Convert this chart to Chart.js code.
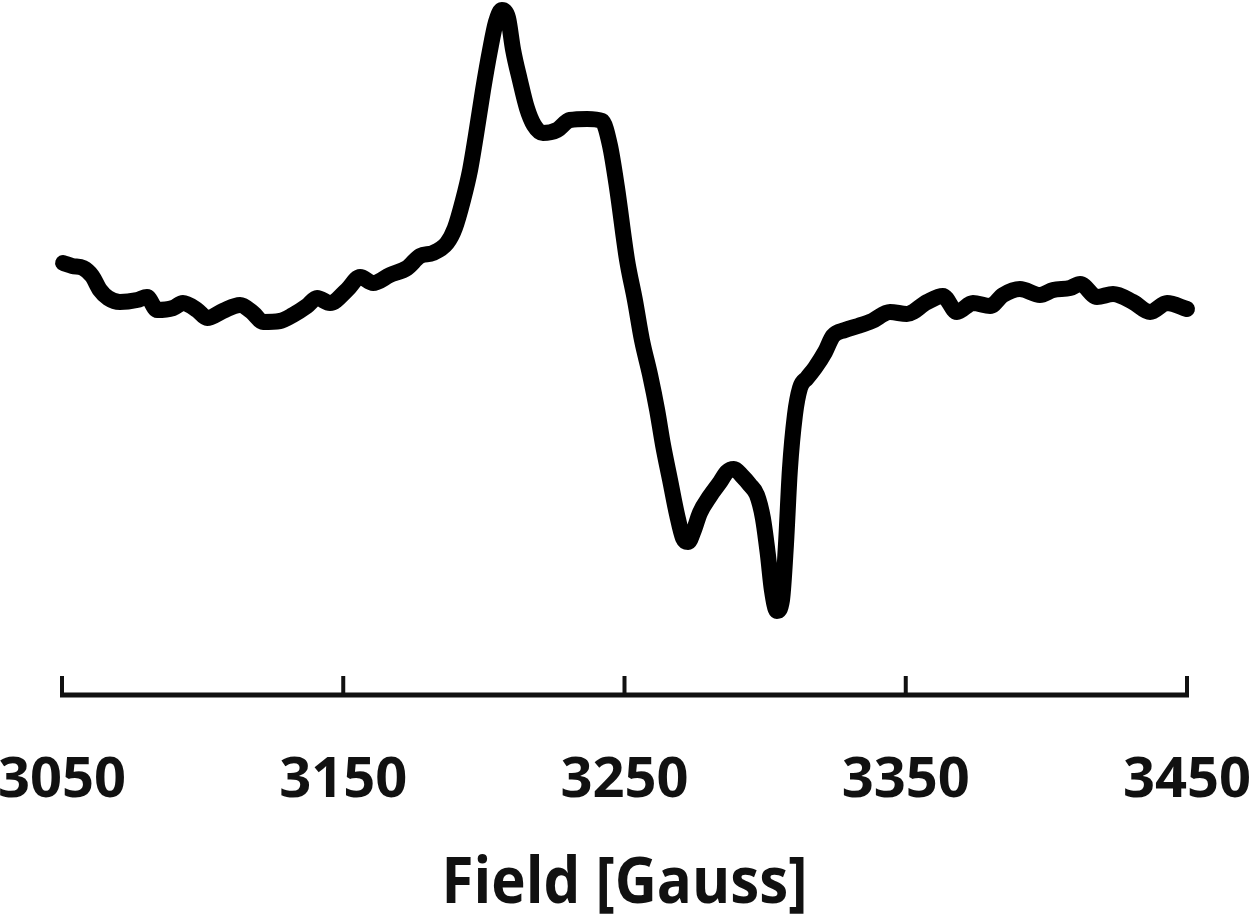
<!DOCTYPE html>
<html>
<head>
<meta charset="utf-8">
<title>EPR spectrum</title>
<script src="https://cdn.jsdelivr.net/npm/chart.js@4.4.1/dist/chart.umd.min.js"></script>
<style>
  html, body { margin: 0; padding: 0; background: #fff; }
  #wrap { width: 1250px; height: 915px; }
</style>
</head>
<body>
<div id="wrap"><canvas id="eprChart" width="1250" height="915"></canvas></div>
<script>
// field values (Gauss)
const fieldGauss = [
  3050.4, 3053.6, 3057.5, 3060.7, 3063.5, 3066.4, 3070.6, 3076.7, 3080.2, 3083.8,
  3089.5, 3093.0, 3098.0, 3101.6, 3107.2, 3113.3, 3117.9, 3121.5, 3127.5, 3132.1,
  3137.1, 3140.7, 3145.3, 3151.3, 3156.0, 3160.6, 3166.6, 3172.7, 3177.3, 3181.9,
  3186.9, 3189.7, 3192.6, 3195.1, 3197.2, 3199.7, 3202.2, 3204.3, 3206.4, 3208.6,
  3210.4, 3212.8, 3215.3, 3217.8, 3221.0, 3226.0, 3230.6, 3236.7, 3242.0, 3244.8,
  3247.3, 3250.9, 3253.7, 3256.2, 3259.1, 3261.6, 3263.7, 3266.2, 3268.7, 3270.8,
  3272.6, 3274.7, 3276.8, 3280.4, 3284.0, 3286.4, 3288.9, 3291.8, 3294.6, 3297.1,
  3299.2, 3301.0, 3302.4, 3304.2, 3306.0, 3307.4, 3308.8, 3310.6, 3312.4, 3314.9,
  3317.7, 3321.3, 3324.1, 3328.4, 3333.0, 3338.0, 3344.4, 3350.4, 3357.6, 3363.2,
  3368.2, 3373.9, 3380.0, 3384.6, 3390.6, 3397.7, 3402.4, 3408.4, 3412.0, 3418.0,
  3423.7, 3430.8, 3436.9, 3442.9, 3450.0
];

// derivative signal, arbitrary units
const signal = [
  37, 34, 32, 24, 10, 2, -2, 0, 3, -10,
  -8, -3, -10, -18, -11, -5, -13, -22, -21, -15,
  -6, 2, -3, 10, 23, 17, 25, 32, 44, 47,
  57, 72, 100, 130, 165, 210, 250, 278, 290, 282,
  250, 220, 192, 175, 167, 170, 180, 181, 179, 155,
  113, 40, 0, -40, -75, -110, -145, -180, -215, -238,
  -242, -230, -213, -196, -182, -172, -169, -176, -185, -195,
  -218, -255, -290, -311, -300, -245, -170, -115, -88, -78,
  -68, -52, -36, -30, -26, -21, -12, -14, -2, 4,
  -12, -3, -6, 5, 11, 5, 10, 12, 16, 3,
  6, -2, -12, -3, -9
];

const tickValues = [3050, 3150, 3250, 3350, 3450];
const axisTitle = 'Field [Gauss]';

// custom bottom axis: ticks point up into the plot, labels can run off the edge
const fieldAxisPlugin = {
  id: 'fieldAxis',
  afterDraw(chart) {
    const ctx = chart.ctx;
    const xScale = chart.scales.x;
    const area = chart.chartArea;
    const axisY = area.bottom;
    const left = xScale.getPixelForValue(tickValues[0]);
    const right = xScale.getPixelForValue(tickValues[tickValues.length - 1]);

    ctx.save();
    ctx.strokeStyle = '#111';
    ctx.lineWidth = 5;
    ctx.lineCap = 'butt';
    ctx.beginPath();
    ctx.moveTo(left - 2, axisY);
    ctx.lineTo(right + 2, axisY);
    ctx.stroke();

    ctx.lineWidth = 4;
    tickValues.forEach(v => {
      const px = xScale.getPixelForValue(v);
      ctx.beginPath();
      ctx.moveTo(px, axisY + 2);
      ctx.lineTo(px, axisY - 19);
      ctx.stroke();
    });

    ctx.fillStyle = '#111';
    ctx.textAlign = 'center';
    ctx.textBaseline = 'alphabetic';
    ctx.font = 'bold 56px "Open Sans"';
    tickValues.forEach(v => {
      const px = xScale.getPixelForValue(v);
      ctx.fillText(String(v), px, axisY + 102);
    });

    // title, squeezed a little to match the narrow original face
    ctx.font = 'bold 64px "Open Sans"';
    const cx = (left + right) / 2;
    ctx.translate(cx, axisY + 208);
    ctx.scale(0.91, 1);
    ctx.fillText(axisTitle, 0, 0);
    ctx.restore();
  }
};

const ctx = document.getElementById('eprChart');
new Chart(ctx, {
  type: 'line',
  data: {
    datasets: [{
      data: fieldGauss.map((g, i) => ({ x: g, y: signal[i] })),
      borderColor: '#000',
      borderWidth: 16,
      borderCapStyle: 'round',
      borderJoinStyle: 'round',
      pointRadius: 0,
      cubicInterpolationMode: 'monotone',
      fill: false,
      clip: false
    }]
  },
  options: {
    responsive: false,
    animation: false,
    layout: {
      padding: { left: 62, right: 63, top: 0, bottom: 220 }
    },
    plugins: {
      legend: { display: false },
      tooltip: { enabled: false }
    },
    scales: {
      x: { type: 'linear', min: 3050, max: 3450, display: false },
      y: { min: -395, max: 300, display: false }
    }
  },
  plugins: [fieldAxisPlugin]
});
</script>
</body>
</html>
